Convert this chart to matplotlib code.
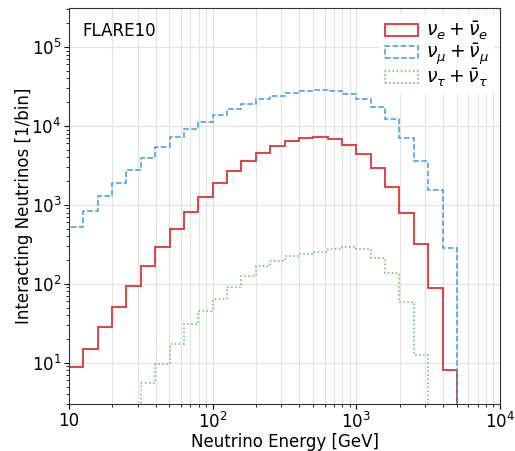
import numpy as np
import matplotlib
matplotlib.use("Agg")
import matplotlib.pyplot as plt

# bin edges: 10 bins per decade from 10 GeV to 10 TeV
edges = 10 ** np.linspace(1, 4, 31)

# interacting neutrinos per bin
nu_e = [8.8, 14.9, 28.3, 50.7, 93, 170, 296, 490, 803, 1245,
        1870, 2660, 3590, 4570, 5620, 6440, 7010, 7250, 6760, 5760,
        4450, 2930, 1690, 787, 318, 88, 8.0, 0, 0, 0]
nu_mu = [531, 847, 1300, 1915, 2770, 3900, 5370, 7200, 9250, 11200,
         13900, 16400, 19100, 21800, 24100, 26200, 28000, 28600, 28000, 25600,
         21900, 17600, 12200, 7100, 3630, 1550, 287, 0, 0, 0]
nu_tau = [0, 0, 0, 0, 0, 5.5, 9.6, 17.2, 30.9, 44.7,
          64.5, 91.6, 126, 167, 195, 226, 238, 252, 277, 291,
          280, 215, 139, 59, 12.4, 0, 0, 0, 0, 0]

labels = [r"$\nu_e + \bar{\nu}_e$", r"$\nu_\mu + \bar{\nu}_\mu$", r"$\nu_\tau + \bar{\nu}_\tau$"]

fig = plt.figure(figsize=(5.15, 4.51), dpi=100)
ax = fig.add_axes([0.134, 0.104, 0.837, 0.878])

centers = np.sqrt(edges[:-1] * edges[1:])
ax.hist(centers, bins=edges, weights=nu_e, histtype="step", color="#e23232",
        lw=1.3, ls="-", label=labels[0])
ax.hist(centers, bins=edges, weights=nu_mu, histtype="step", color="#3f9be6",
        lw=1.1, ls="--", label=labels[1])
ax.hist(centers, bins=edges, weights=nu_tau, histtype="step", color="#55c655",
        lw=1.1, ls=":", label=labels[2])

ax.set_xscale("log")
ax.set_yscale("log")
ax.set_xlim(10, 1e4)
ax.set_ylim(3, 3.1e5)

ax.set_xticks([10, 100, 1000, 10000])
ax.set_xticklabels(["10", "$10^2$", "$10^3$", "$10^4$"])

ax.grid(True, which="major", color="#e3e3e3", lw=0.8)
ax.grid(True, which="minor", axis="x", color="#e3e3e3", lw=0.8)
ax.set_axisbelow(True)

ax.tick_params(labelsize=12, pad=2)
ax.tick_params(which="major", length=3.5)
ax.tick_params(which="minor", length=2)
for s in ax.spines.values():
    s.set_color("#333333")

ax.set_xlabel("Neutrino Energy [GeV]", fontsize=12, labelpad=1)
ax.set_ylabel("Interacting Neutrinos [1/bin]", fontsize=12, labelpad=-1)

ax.text(0.03, 0.965, "FLARE10", transform=ax.transAxes, fontsize=12, va="top", ha="left")

ax.legend(loc="upper right", fontsize=13.5, frameon=True, edgecolor="none",
          framealpha=1, handlelength=1.8, handleheight=0.6, handletextpad=0.4,
          labelspacing=0.0, borderaxespad=0.3, borderpad=0.3)

fig.savefig("out.png", dpi=100)
